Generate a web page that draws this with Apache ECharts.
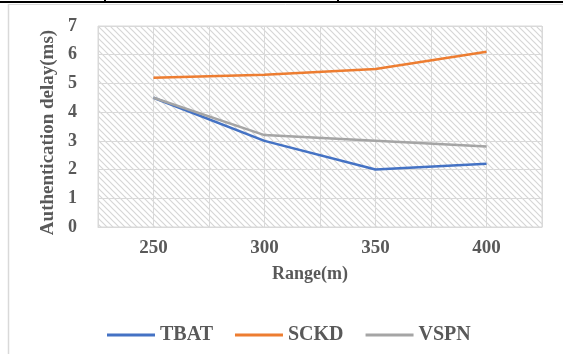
<!DOCTYPE html>
<html>
<head>
<meta charset="utf-8">
<script src="https://cdn.jsdelivr.net/npm/echarts@6/dist/echarts.min.js"></script>
<style>
html,body{margin:0;padding:0;background:#fff;}
#c{width:563px;height:354px;}
</style>
</head>
<body>
<div id="c"></div>
<script>
var ranges = [250, 300, 350, 400];
var tbat = [4.5, 3.0, 2.0, 2.2];
var sckd = [5.2, 5.3, 5.5, 6.1];
var vspn = [4.5, 3.2, 3.0, 2.8];
var seriesNames = ['TBAT', 'SCKD', 'VSPN'];
var yTicks = [0, 1, 2, 3, 4, 5, 6, 7];

function pairs(vals) { return ranges.map(function (r, i) { return [r, vals[i]]; }); }

var tile = document.createElement('canvas');
tile.width = 6; tile.height = 6;
var g = tile.getContext('2d');
g.fillStyle = '#ffffff'; g.fillRect(0, 0, 6, 6);
g.strokeStyle = '#d6d6d6'; g.lineWidth = 1.2;
g.beginPath();
g.moveTo(-1, -1); g.lineTo(7, 7);
g.moveTo(-4, 2); g.lineTo(4, 10);
g.moveTo(2, -4); g.lineTo(10, 4);
g.stroke();

var font = '"Liberation Serif", "Times New Roman", serif';
var txt = '#595959';
var chart = echarts.init(document.getElementById('c'));
chart.setOption({
  animation: false,
  textStyle: { fontFamily: font },
  graphic: [
    { type: 'line', shape: { x1: 0, y1: 2, x2: 563, y2: 2 }, style: { stroke: '#000', lineWidth: 2 } },
    { type: 'line', shape: { x1: 105, y1: 0, x2: 105, y2: 3 }, style: { stroke: '#000', lineWidth: 2 } },
    { type: 'line', shape: { x1: 338, y1: 0, x2: 338, y2: 3 }, style: { stroke: '#000', lineWidth: 2 } },
    { type: 'line', shape: { x1: 8.5, y1: 4, x2: 8.5, y2: 354 }, style: { stroke: '#d9d9d9', lineWidth: 1.5 } },
    { type: 'line', shape: { x1: 8, y1: 4.5, x2: 563, y2: 4.5 }, style: { stroke: '#d9d9d9', lineWidth: 1 } }
  ],
  grid: {
    left: 98, right: 21, top: 26, bottom: 127,
    show: true,
    backgroundColor: { image: tile, repeat: 'repeat' },
    borderColor: '#d9d9d9', borderWidth: 1
  },
  legend: {
    data: seriesNames,
    left: 102, top: 320,
    icon: 'rect', itemWidth: 48, itemHeight: 3, itemGap: 22,
    textStyle: { fontFamily: font, fontSize: 20, fontWeight: 'bold', color: txt }
  },
  xAxis: {
    type: 'value', min: 225, max: 425, interval: 25,
    name: 'Range(m)', nameLocation: 'middle', nameGap: 38,
    nameTextStyle: { fontFamily: font, fontSize: 18, fontWeight: 'bold', color: txt, padding: [0, 20, 0, 0] },
    axisLine: { show: true, lineStyle: { color: '#d9d9d9' } },
    axisTick: { show: false },
    axisLabel: {
      margin: 12, fontFamily: font, fontSize: 19, fontWeight: 'bold', color: txt,
      formatter: function (v) { return ranges.indexOf(v) >= 0 ? String(v) : ''; }
    },
    splitLine: { show: true, lineStyle: { color: '#d9d9d9', width: 1 } }
  },
  yAxis: {
    type: 'value', min: yTicks[0], max: yTicks[yTicks.length - 1], interval: 1,
    name: 'Authentication delay(ms)', nameLocation: 'middle', nameGap: 32,
    nameTextStyle: { fontFamily: font, fontSize: 19, fontWeight: 'bold', color: txt, padding: [0, 12, 0, 0] },
    axisLine: { show: false }, axisTick: { show: false },
    axisLabel: { margin: 21, fontFamily: font, fontSize: 18, fontWeight: 'bold', color: txt },
    splitLine: { show: true, lineStyle: { color: '#d9d9d9', width: 1 } }
  },
  series: [
    { name: seriesNames[0], type: 'line', data: pairs(tbat), symbol: 'none', lineStyle: { width: 2.5, color: '#4472C4' }, itemStyle: { color: '#4472C4' } },
    { name: seriesNames[1], type: 'line', data: pairs(sckd), symbol: 'none', lineStyle: { width: 2.5, color: '#ED7D31' }, itemStyle: { color: '#ED7D31' } },
    { name: seriesNames[2], type: 'line', data: pairs(vspn), symbol: 'none', lineStyle: { width: 2.5, color: '#A5A5A5' }, itemStyle: { color: '#A5A5A5' } }
  ]
});
</script>
</body>
</html>
